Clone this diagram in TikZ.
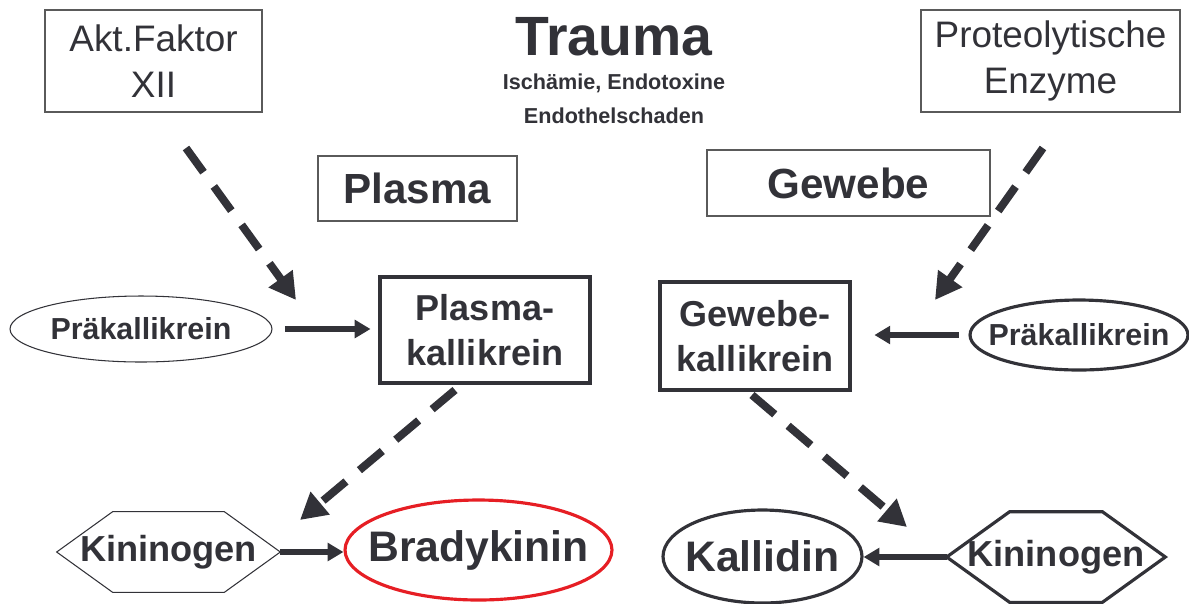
\documentclass[tikz,border=0pt]{standalone}
\usepackage{fontspec}
\setmainfont{Liberation Sans}
\usetikzlibrary{arrows.meta,calc,positioning,shapes.geometric}
\definecolor{ink}{RGB}{50,50,56}
\definecolor{frame}{RGB}{90,90,90}
\definecolor{alarm}{RGB}{230,30,36}
\tikzset{
    %Define standard arrow tip
    >={Triangle[length=9pt,width=10pt]},
    %Define style for boxes
    quelle/.style={
           rectangle,
           draw=frame, line width=0.8pt,
           text=ink,
           inner sep=0pt,
           align=center,
           font=\fontsize{21}{26.5}\selectfont},
    bereich/.style={
           rectangle,
           draw=frame, line width=0.8pt,
           text=ink,
           inner sep=0pt,
           font=\bfseries\fontsize{24}{28}\selectfont},
    enzym/.style={
           rectangle,
           draw=ink, line width=1.8pt,
           text=ink,
           inner sep=0pt,
           align=center,
           font=\bfseries\fontsize{20.5}{26}\selectfont},
    vorstufe/.style={
           ellipse,
           draw=ink,
           text=ink,
           inner sep=-1cm,
           font=\bfseries\fontsize{17.3}{20}\selectfont},
    kinin/.style={
           ellipse,
           draw=ink, line width=1.8pt,
           text=ink,
           inner sep=-1cm,
           font=\bfseries\fontsize{24.3}{28}\selectfont},
    hexa/.style={
           rectangle,
           text=ink,
           inner sep=0pt,
           font=\bfseries\fontsize{20.6}{24}\selectfont},
    titel/.style={text=ink, font=\bfseries\fontsize{31.5}{34}\selectfont},
    zeile/.style={text=ink, font=\bfseries\fontsize{12.3}{14}\selectfont},
    % Define arrow styles
    pil/.style={->, draw=ink, line width=3.3pt},
    dpil/.style={
           -{Triangle[length=15pt,width=16pt]},
           draw=ink, line width=4.5pt,
           dash pattern=on 17pt off 10pt}
}
\begin{document}
\begin{tikzpicture}[x=0.02cm, y=-0.02cm]
\useasboundingbox (0,0) rectangle (1189,603);
 %nodes
\node[titel, anchor=base] (trauma) at (614,55) {Trauma};
\node[zeile, below=0.68cm of trauma.base, anchor=base] (ischaemie) {Ischämie, Endotoxine};
\node[zeile, below=0.7cm of ischaemie.base, anchor=base] (endothel) {Endothelschaden};
\node[quelle, minimum width=4.34cm, minimum height=2.04cm] (faktor) at (153.5,61) {Akt.Faktor\\XII};
\node[quelle, minimum width=5.18cm, minimum height=2.04cm] (enzyme) at (1050.5,61) {Proteolytische\\Enzyme};
\node[bereich, minimum width=3.98cm, minimum height=1.3cm] (plasma) at (417.5,188.5) {Plasma};
\node[bereich, minimum width=5.66cm, minimum height=1.32cm] (gewebe) at (848.5,183) {Gewebe};
\node[enzym, minimum width=4.2cm, minimum height=2.12cm] (pk) at (485,330) {Plasma-\\kallikrein};
\node[enzym, minimum width=3.8cm, minimum height=2.16cm] (gk) at (755,336) {Gewebe-\\kallikrein};
\node[vorstufe, line width=0.6pt, minimum width=5.24cm, minimum height=1.32cm] (prak1) at (141,329) {Präkallikrein};
\node[vorstufe, line width=1.8pt, minimum width=4.36cm, minimum height=1.4cm] (prak2) at (1079,335) {Präkallikrein};
\node[hexa, minimum width=4.46cm, minimum height=1.6cm] (kin1) at (168.5,552) {Kininogen};
\node[hexa, minimum width=4.36cm, minimum height=1.8cm] (kin2) at (1056,557) {Kininogen};
\node[kinin, draw=alarm, minimum width=5.34cm, minimum height=2cm] (brady) at (478.5,550) {Bradykinin};
\node[kinin, minimum width=3.98cm, minimum height=1.86cm] (kall) at (762.5,556.5) {Kallidin};
 %hexagons
\draw[ink, line width=0.6pt] (kin1.west) -- ($(kin1.north west)+(56,0)$) -- ($(kin1.north east)+(-56,0)$)
    -- (kin1.east) -- ($(kin1.south east)+(-56,0)$) -- ($(kin1.south west)+(56,0)$) -- cycle;
\draw[ink, line width=1.8pt, line join=miter] (kin2.west) -- ($(kin2.north west)+(63,0)$) -- ($(kin2.north east)+(-63,0)$)
    -- (kin2.east) -- ($(kin2.south east)+(-63,0)$) -- ($(kin2.south west)+(63,0)$) -- cycle;
 %free ends of the dashed arrows
\coordinate (d1a) at (186,148);
\coordinate (d1b) at (296,300);
\coordinate (d2a) at (1043,148);
\coordinate (d2b) at (935,300);
\coordinate (d3a) at (455,390);
\coordinate (d3b) at (300,520);
\coordinate (d4a) at (752,395);
\coordinate (d4b) at (907,527);
\draw[dpil] (d1a) -- (d1b);
\draw[dpil] (d2a) -- (d2b);
\draw[dpil] (d3a) -- (d3b);
\draw[dpil] (d4a) -- (d4b);
 %solid arrows
\draw[pil, shorten <=7pt, shorten >=4.5pt] (prak1.east) -- (prak1.east -| pk.west);
\draw[pil, shorten <=5.5pt, shorten >=13pt] (prak2.west) -- (prak2.west -| gk.east);
\draw[pil] (kin1.east) -- (kin1.east -| brady.west);
\draw[pil] (kin2.west) -- (kin2.west -| kall.east);
\end{tikzpicture}
\end{document}
